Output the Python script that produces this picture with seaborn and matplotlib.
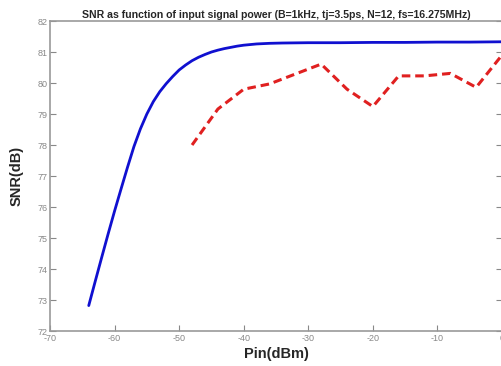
import numpy as np
import pandas as pd
import seaborn as sns
import matplotlib
matplotlib.use("Agg")
import matplotlib.pyplot as plt

# ideal SNR curve (blue)
pin_ideal = [-64, -63, -62, -61, -60, -59, -58, -57, -56, -55, -54, -53, -52,
             -51, -50, -49, -48, -47, -46, -45, -44, -43, -42, -41, -40, -39,
             -38, -36, -34, -30, -25, -20, -15, -10, -5, 0]
snr_ideal = [72.82, 73.6, 74.37, 75.13, 75.87, 76.58, 77.28, 77.95, 78.52, 79.0,
             79.4, 79.72, 79.98, 80.21, 80.42, 80.58, 80.72, 80.83, 80.92, 81.0,
             81.06, 81.11, 81.15, 81.19, 81.22, 81.24, 81.26, 81.28, 81.29, 81.3,
             81.3, 81.31, 81.31, 81.32, 81.32, 81.33]

# simulated SNR (red dashed)
pin_sim = [-48, -44, -40, -36, -32, -28, -24, -20, -16, -12, -8, -4, 0]
snr_sim = [78.0, 79.16, 79.8, 79.97, 80.29, 80.61, 79.8, 79.24, 80.23, 80.23,
           80.31, 79.86, 80.9]

df_ideal = pd.DataFrame({'Pin': pin_ideal, 'SNR': snr_ideal})
df_sim = pd.DataFrame({'Pin': pin_sim, 'SNR': snr_sim})

sns.set_style("white")
plt.rcParams['font.family'] = ['Liberation Sans', 'DejaVu Sans']
plt.rcParams['axes.unicode_minus'] = False

fig = plt.figure(figsize=(5.02, 3.66), dpi=100)
ax = fig.add_axes([0.0996, 0.0956, 0.9004, 0.847])

sns.lineplot(data=df_ideal, x='Pin', y='SNR', ax=ax, color='#1010d0', linewidth=2.0)
sns.lineplot(data=df_sim, x='Pin', y='SNR', ax=ax, color='#e02020', linewidth=2.2,
             linestyle=(0, (2.8, 1.6)))

ax.set_xlim(-70, 0)
ax.set_ylim(72, 82)
ax.set_xticks(np.arange(-70, 1, 10))
ax.set_yticks(np.arange(72, 83, 1))
for s in ax.spines.values():
    s.set_color('#999999')
    s.set_linewidth(1.2)
ax.tick_params(direction='in', length=4, width=0.8, color='#888888',
               labelsize=6.5, labelcolor='#888888', pad=2,
               top=False, right=True, bottom=True, left=True)

ax.set_title('SNR as function of input signal power (B=1kHz, tj=3.5ps, N=12, fs=16.275MHz)',
             fontsize=7.6, fontweight='bold', pad=2)
ax.set_xlabel('Pin(dBm)', fontsize=10.5, fontweight='bold', labelpad=3)
ax.set_ylabel('SNR(dB)', fontsize=10.5, fontweight='bold', labelpad=10)

fig.savefig('out.png', dpi=100)
